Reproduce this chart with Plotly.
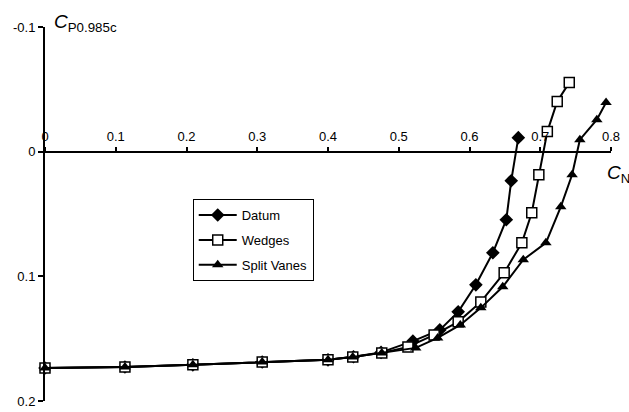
import plotly.graph_objects as go

# Data
datum_x = [0.0, 0.113, 0.209, 0.307, 0.400, 0.436, 0.475, 0.520, 0.558, 0.584, 0.609, 0.633, 0.652, 0.659, 0.669]
datum_y = [0.1735, 0.1727, 0.1710, 0.1687, 0.1670, 0.1645, 0.1610, 0.1520, 0.1430, 0.1285, 0.1068, 0.0811, 0.0546, 0.0233, -0.0112]

wedges_x = [0.0, 0.113, 0.209, 0.307, 0.400, 0.435, 0.476, 0.513, 0.550, 0.584, 0.616, 0.649, 0.674, 0.688, 0.698, 0.710, 0.724, 0.741]
wedges_y = [0.1735, 0.1727, 0.1710, 0.1687, 0.1670, 0.1647, 0.1614, 0.1566, 0.1470, 0.1365, 0.1205, 0.0972, 0.0731, 0.0490, 0.0185, -0.0161, -0.0402, -0.0554]

split_x = [0.0, 0.113, 0.209, 0.307, 0.400, 0.435, 0.476, 0.524, 0.555, 0.587, 0.616, 0.647, 0.676, 0.708, 0.729, 0.745, 0.756, 0.780, 0.793]
split_y = [0.1735, 0.1727, 0.1710, 0.1687, 0.1670, 0.1647, 0.1614, 0.1574, 0.1494, 0.1390, 0.1253, 0.1084, 0.0867, 0.0731, 0.0442, 0.0185, -0.0096, -0.0257, -0.0394]

x_ticks = [0, 0.1, 0.2, 0.3, 0.4, 0.5, 0.6, 0.7, 0.8]
x_tick_labels = ["0", "0.1", "0.2", "0.3", "0.4", "0.5", "0.6", "0.7", "0.8"]
y_ticks = [-0.1, 0, 0.1, 0.2]
y_tick_labels = ["-0.1", "0", "0.1", "0.2"]

FONT = "Liberation Sans, Arial, sans-serif"

fig = go.Figure()
fig.add_trace(go.Scatter(
    x=datum_x, y=datum_y, name="Datum", mode="lines+markers", legendgroup="a",
    line=dict(color="black", width=2),
    marker=dict(symbol="diamond", size=10.5, color="black"),
    cliponaxis=False))
fig.add_trace(go.Scatter(
    x=wedges_x, y=wedges_y, name="Wedges", mode="lines+markers", legendgroup="b",
    line=dict(color="black", width=2),
    marker=dict(symbol="square", size=10, color="white", line=dict(color="black", width=1.5)),
    cliponaxis=False))
fig.add_trace(go.Scatter(
    x=split_x, y=split_y, name="Split Vanes", mode="lines+markers", legendgroup="c",
    line=dict(color="black", width=2),
    marker=dict(symbol="triangle-up", size=10, color="black"),
    cliponaxis=False))

zero_pos = (0.2 - 0.0) / 0.3  # paper position of y=0

fig.update_layout(
    width=629, height=412,
    margin=dict(l=45, r=18, t=27, b=11),
    paper_bgcolor="white", plot_bgcolor="white",
    font=dict(family=FONT, size=13, color="black"),
    showlegend=True,
    legend=dict(
        x=0.261, y=0.54, xanchor="left", yanchor="top",
        bordercolor="black", borderwidth=1, bgcolor="white",
        font=dict(size=13), traceorder="grouped", tracegroupgap=5,
        itemwidth=38),
    xaxis=dict(
        range=[0, 0.8], anchor="free", position=zero_pos, side="top",
        showline=True, linecolor="black", linewidth=2,
        ticks="outside", ticklen=4, tickwidth=1.5, tickcolor="black",
        tickvals=x_ticks, ticktext=x_tick_labels,
        showgrid=False, zeroline=False, automargin=False),
    yaxis=dict(
        range=[0.2, -0.1],
        showline=True, linecolor="black", linewidth=2,
        ticks="outside", ticklen=5, tickwidth=1.5, tickcolor="black",
        tickvals=y_ticks, ticktext=y_tick_labels,
        showgrid=False, zeroline=False, automargin=False),
)

fig.add_annotation(
    x=0.012, y=1.0, xref="paper", yref="paper", xanchor="left", yanchor="middle",
    text="<i>C</i><sub>P0.985c</sub>", showarrow=False,
    font=dict(family=FONT, size=19, color="black"), yshift=4)
fig.add_annotation(
    x=1.0, y=zero_pos, xref="paper", yref="paper", xanchor="left", yanchor="top",
    text="<i>C</i><sub>N</sub>", showarrow=False,
    font=dict(family=FONT, size=19, color="black"), xshift=-6, yshift=-8)

fig.write_html("out.html",
               config={"displayModeBar": False},
               post_script="document.body.style.margin='0';document.body.style.overflow='hidden';")
